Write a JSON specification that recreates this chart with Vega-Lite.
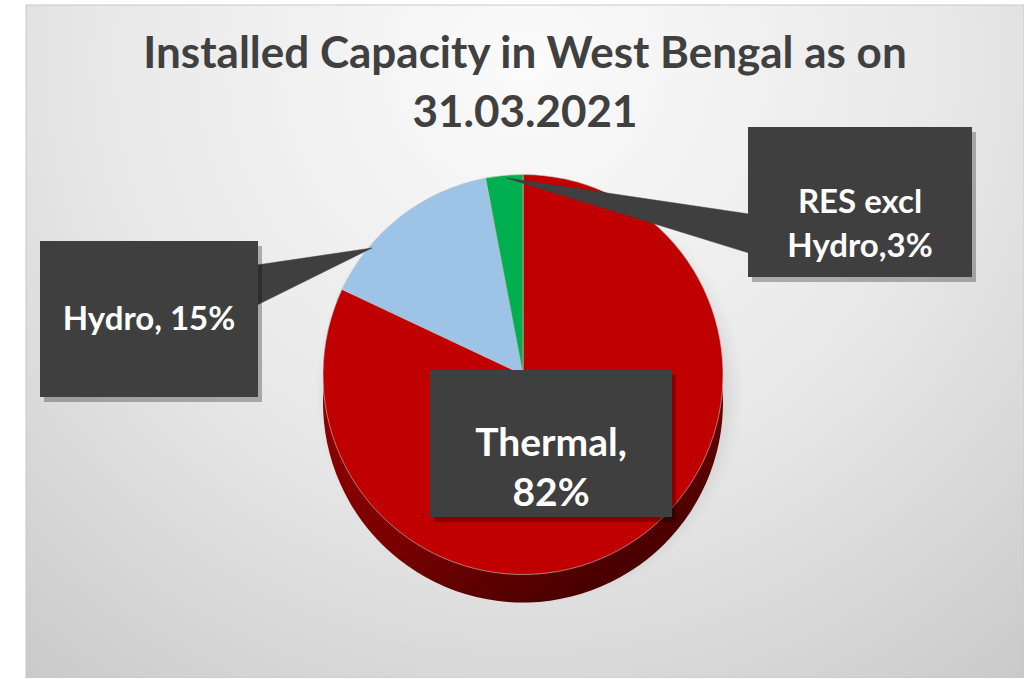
{
  "$schema": "https://vega.github.io/schema/vega-lite/v6.json",
  "width": 998,
  "height": 673,
  "autosize": {"type": "none"},
  "padding": {"left": 26, "top": 5, "right": 0, "bottom": 0},
  "background": "#ffffff",
  "config": {"view": {"stroke": null}, "font": "Lato"},
  "title": {
    "text": ["Installed Capacity in West Bengal as on", "31.03.2021"],
    "font": "Lato",
    "fontSize": 44,
    "fontWeight": "bold",
    "color": "#404040",
    "lineHeight": 59,
    "anchor": "middle",
    "offset": -131
  },
  "datasets": {
    "pie": [
      {"source": "Thermal", "share": 82, "order": 1},
      {"source": "Hydro", "share": 15, "order": 2},
      {"source": "RES excl Hydro", "share": 3, "order": 3}
    ],
    "boxes": [
      {"id": "RES excl Hydro", "x1": 748, "x2": 972, "y1": 127, "y2": 277, "cx": 860, "cy": 203, "label": "RES excl\nHydro,3%"},
      {"id": "Hydro", "x1": 40, "x2": 258, "y1": 241, "y2": 397, "cx": 149, "cy": 320, "label": "Hydro, 15%"},
      {"id": "Thermal", "x1": 430, "x2": 672, "y1": 370, "y2": 517, "cx": 551, "cy": 444, "label": "Thermal,\n82%"}
    ],
    "wedges": [
      {"id": "Hydro", "k": 1, "x": 257, "y": 265},
      {"id": "Hydro", "k": 2, "x": 372, "y": 248},
      {"id": "Hydro", "k": 3, "x": 257, "y": 305},
      {"id": "RES excl Hydro", "k": 1, "x": 749, "y": 214},
      {"id": "RES excl Hydro", "k": 2, "x": 506, "y": 178},
      {"id": "RES excl Hydro", "k": 3, "x": 749, "y": 253}
    ]
  },
  "layer": [
    {
      "data": {"values": [{}]},
      "mark": {
        "type": "rect",
        "stroke": "#c8c8c8",
        "strokeWidth": 1,
        "fill": {
          "gradient": "radial",
          "x1": 0.5, "y1": 0.22, "r1": 0,
          "x2": 0.5, "y2": 0.22, "r2": 0.95,
          "stops": [
            {"offset": 0, "color": "#fbfbfb"},
            {"offset": 0.45, "color": "#e8e8e8"},
            {"offset": 1, "color": "#bdbdbd"}
          ]
        }
      },
      "encoding": {}
    },
    {
      "data": {"name": "pie"},
      "mark": {
        "type": "arc",
        "radius": 214,
        "xOffset": 4,
        "yOffset": 50,
        "fill": {
          "gradient": "radial",
          "x1": 0.5, "y1": 0.5, "r1": 0,
          "x2": 0.5, "y2": 0.5, "r2": 0.5,
          "stops": [
            {"offset": 0.8, "color": "rgba(0,0,0,0.16)"},
            {"offset": 1, "color": "rgba(0,0,0,0)"}
          ]
        }
      },
      "encoding": {
        "theta": {"field": "share", "type": "quantitative", "stack": true},
        "order": {"field": "order", "type": "quantitative"}
      }
    },
    {
      "data": {"name": "pie"},
      "mark": {
        "type": "arc",
        "radius": 200,
        "xOffset": -2,
        "yOffset": 61,
        "fill": {
          "gradient": "linear",
          "x1": 0, "y1": 0, "x2": 0.6, "y2": 1,
          "stops": [
            {"offset": 0, "color": "#a30000"},
            {"offset": 0.7, "color": "#7a0000"},
            {"offset": 1, "color": "#4a0000"}
          ]
        }
      },
      "encoding": {
        "theta": {"field": "share", "type": "quantitative", "stack": true},
        "order": {"field": "order", "type": "quantitative"}
      }
    },
    {
      "data": {"name": "pie"},
      "mark": {"type": "arc", "radius": 200, "xOffset": -2, "yOffset": 33, "stroke": "#c9c9c9", "strokeWidth": 0.6},
      "encoding": {
        "theta": {"field": "share", "type": "quantitative", "stack": true},
        "order": {"field": "order", "type": "quantitative"},
        "color": {
          "field": "source",
          "type": "nominal",
          "scale": {"domain": ["Thermal", "Hydro", "RES excl Hydro"], "range": ["#C00000", "#9DC3E6", "#00B050"]},
          "legend": null
        }
      }
    },
    {
      "data": {"name": "wedges"},
      "mark": {"type": "line", "fill": "#3f3f3f", "stroke": "#3f3f3f", "strokeWidth": 0.5, "interpolate": "linear-closed"},
      "encoding": {
        "x": {"field": "x", "type": "quantitative", "scale": {"domain": [26, 1024], "zero": false, "nice": false}, "axis": null},
        "y": {"field": "y", "type": "quantitative", "scale": {"domain": [678, 5], "zero": false, "nice": false}, "axis": null},
        "order": {"field": "k", "type": "quantitative"},
        "detail": {"field": "id", "type": "nominal"}
      }
    },
    {
      "data": {"name": "boxes"},
      "mark": {"type": "rect", "fill": "#000000", "opacity": 0.28, "xOffset": 4, "x2Offset": 4, "yOffset": 5, "y2Offset": 5},
      "encoding": {
        "x": {"field": "x1", "type": "quantitative", "scale": {"domain": [26, 1024], "zero": false, "nice": false}, "axis": null},
        "x2": {"field": "x2"},
        "y": {"field": "y1", "type": "quantitative", "scale": {"domain": [678, 5], "zero": false, "nice": false}, "axis": null},
        "y2": {"field": "y2"}
      }
    },
    {
      "data": {"name": "boxes"},
      "mark": {"type": "rect", "fill": "#3f3f3f"},
      "encoding": {
        "x": {"field": "x1", "type": "quantitative", "scale": {"domain": [26, 1024], "zero": false, "nice": false}, "axis": null},
        "x2": {"field": "x2"},
        "y": {"field": "y1", "type": "quantitative", "scale": {"domain": [678, 5], "zero": false, "nice": false}, "axis": null},
        "y2": {"field": "y2"}
      }
    },
    {
      "data": {"name": "boxes"},
      "transform": [{"filter": "datum.id !== 'Thermal'"}],
      "mark": {"type": "text", "font": "Lato", "fontWeight": "bold", "fontSize": 33, "color": "#ffffff", "align": "center", "baseline": "middle", "lineBreak": "\n", "lineHeight": 44},
      "encoding": {
        "x": {"field": "cx", "type": "quantitative", "scale": {"domain": [26, 1024], "zero": false, "nice": false}, "axis": null},
        "y": {"field": "cy", "type": "quantitative", "scale": {"domain": [678, 5], "zero": false, "nice": false}, "axis": null},
        "text": {"field": "label"}
      }
    },
    {
      "data": {"name": "boxes"},
      "transform": [{"filter": "datum.id === 'Thermal'"}],
      "mark": {"type": "text", "font": "Lato", "fontWeight": "bold", "fontSize": 39, "color": "#ffffff", "align": "center", "baseline": "middle", "lineBreak": "\n", "lineHeight": 50},
      "encoding": {
        "x": {"field": "cx", "type": "quantitative", "scale": {"domain": [26, 1024], "zero": false, "nice": false}, "axis": null},
        "y": {"field": "cy", "type": "quantitative", "scale": {"domain": [678, 5], "zero": false, "nice": false}, "axis": null},
        "text": {"field": "label"}
      }
    }
  ],
  "resolve": {"scale": {"x": "shared", "y": "shared"}}
}
